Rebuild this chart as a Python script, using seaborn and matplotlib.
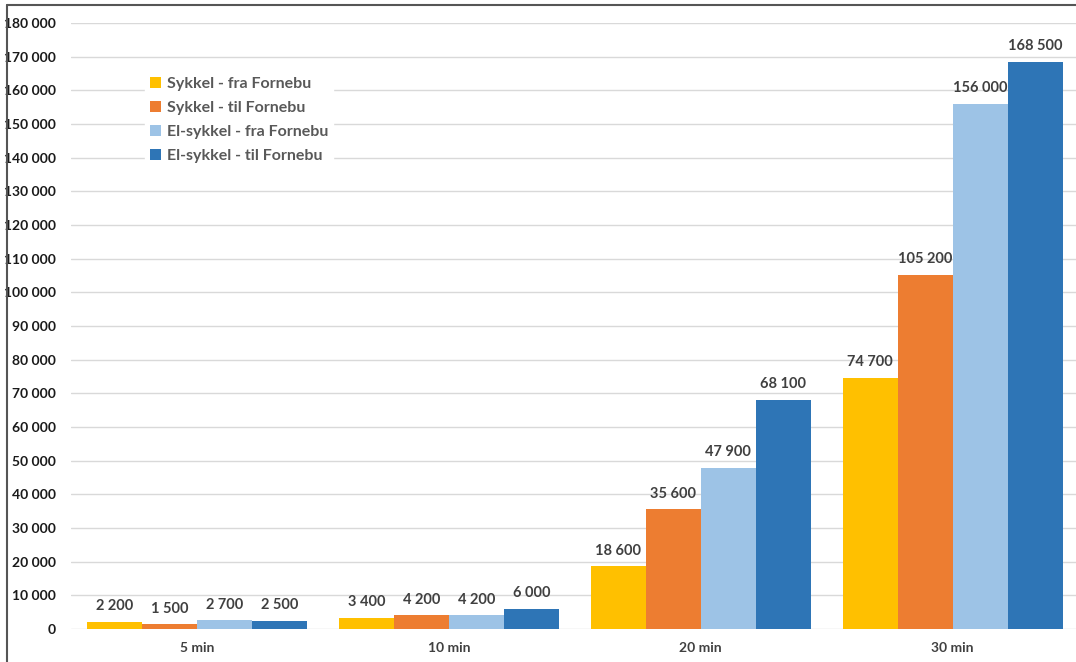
import matplotlib
matplotlib.use("Agg")
import matplotlib.pyplot as plt
import seaborn as sns
import pandas as pd
from matplotlib.lines import Line2D
from matplotlib.ticker import FuncFormatter

categories = ["5 min", "10 min", "20 min", "30 min"]
series = ["Sykkel - fra Fornebu", "Sykkel - til Fornebu",
          "El-sykkel - fra Fornebu", "El-sykkel - til Fornebu"]
sykkel_fra = [2200, 3400, 18600, 74700]
sykkel_til = [1500, 4200, 35600, 105200]
el_fra = [2700, 4200, 47900, 156000]
el_til = [2500, 6000, 68100, 168500]
colors = ["#FFC000", "#ED7D31", "#9DC3E6", "#2E75B6"]

rows = []
for s, vals in zip(series, [sykkel_fra, sykkel_til, el_fra, el_til]):
    for c, v in zip(categories, vals):
        rows.append({"Tid": c, "Serie": s, "Antall": v})
df = pd.DataFrame(rows)

sns.set_style("white")
plt.rcParams["font.family"] = ["Lato", "DejaVu Sans"]

fig = plt.figure(figsize=(10.76, 6.62), dpi=100)
ax = fig.add_axes([71/1076, 33/662, 1 - 71/1076, (629-23)/662])

sns.barplot(data=df, x="Tid", y="Antall", hue="Serie", order=categories,
            hue_order=series, palette=colors, width=0.873, gap=0,
            saturation=1, ax=ax, edgecolor="none", errorbar=None)

fmt = lambda v: f"{int(round(v)):,}".replace(",", " ")
for cont in ax.containers:
    ax.bar_label(cont, labels=[fmt(b.get_height()) for b in cont],
                 padding=6, fontsize=10.5, fontweight="bold", color="#404040")

ax.set_ylim(0, 180000)
ax.set_xlim(-0.5, 3.49)
ax.set_yticks(range(0, 180001, 10000))
ax.yaxis.set_major_formatter(FuncFormatter(lambda v, p: fmt(v)))
ax.grid(axis="y", color="#D9D9D9", linewidth=1)
ax.set_axisbelow(True)
for sp in ax.spines.values():
    sp.set_visible(False)
ax.tick_params(axis="y", length=0, pad=11, labelsize=10, labelcolor="#1a1a1a")
ax.tick_params(axis="x", length=0, pad=9, labelsize=10, labelcolor="#404040")
for t in ax.get_yticklabels():
    t.set_fontweight("bold")
for t in ax.get_xticklabels():
    t.set_fontweight("bold")
ax.set_xlabel("")
ax.set_ylabel("")

leg = ax.legend(loc="upper left", bbox_to_anchor=(0.066, 0.932), frameon=True,
                fontsize=11.5, handlelength=0.7, handleheight=0.7,
                handletextpad=0.35, labelspacing=0.62, borderpad=0.3)
leg.get_frame().set_facecolor("white")
leg.get_frame().set_edgecolor("white")
leg.get_frame().set_alpha(1)
for t in leg.get_texts():
    t.set_color("#595959")
    t.set_fontweight("bold")

fig.add_artist(Line2D([7/1076, 7/1076], [0, 1 - 5/662], transform=fig.transFigure,
                      color="#555555", linewidth=1.5))
fig.add_artist(Line2D([7/1076, 1], [1 - 5/662, 1 - 5/662], transform=fig.transFigure,
                      color="#555555", linewidth=1.5))

fig.savefig("out.png", dpi=100)
